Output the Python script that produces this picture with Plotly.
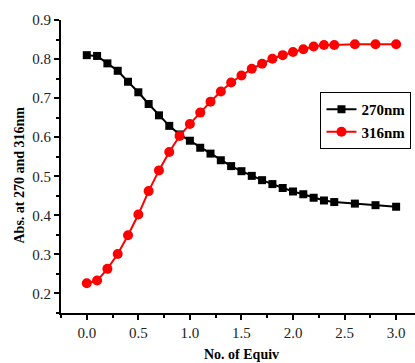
import plotly.graph_objects as go

x_equiv = [0.0, 0.1, 0.2, 0.3, 0.4, 0.5, 0.6, 0.7, 0.8, 0.9, 1.0, 1.1, 1.2, 1.3,
           1.4, 1.5, 1.6, 1.7, 1.8, 1.9, 2.0, 2.1, 2.2, 2.3, 2.4, 2.6, 2.8, 3.0]
abs_270 = [0.810, 0.808, 0.789, 0.770, 0.742, 0.715, 0.685, 0.656, 0.629, 0.607,
           0.591, 0.573, 0.558, 0.541, 0.526, 0.513, 0.501, 0.490, 0.480, 0.470,
           0.461, 0.454, 0.445, 0.438, 0.434, 0.430, 0.426, 0.422]
abs_316 = [0.226, 0.233, 0.263, 0.301, 0.349, 0.402, 0.462, 0.515, 0.562, 0.603,
           0.634, 0.663, 0.691, 0.717, 0.740, 0.758, 0.775, 0.788, 0.801, 0.810,
           0.818, 0.825, 0.832, 0.836, 0.836, 0.838, 0.838, 0.838]
series_names = ["270nm", "316nm"]
x_ticks = [0.0, 0.5, 1.0, 1.5, 2.0, 2.5, 3.0]
y_ticks = [0.2, 0.3, 0.4, 0.5, 0.6, 0.7, 0.8, 0.9]

font_family = "Liberation Serif, Times New Roman, serif"

fig = go.Figure()
fig.add_trace(go.Scatter(
    x=x_equiv, y=abs_270, name=series_names[0], mode="lines+markers",
    line=dict(color="black", width=2),
    marker=dict(symbol="square", size=8, color="black"),
))
fig.add_trace(go.Scatter(
    x=x_equiv, y=abs_316, name=series_names[1], mode="lines+markers",
    line=dict(color="red", width=2),
    marker=dict(symbol="circle", size=10, color="red"),
))

fig.update_layout(
    width=415, height=363,
    margin=dict(l=61, r=0, t=20, b=50),
    plot_bgcolor="white", paper_bgcolor="white",
    font=dict(family=font_family, size=15, color="#222"),
    showlegend=True,
    legend=dict(
        x=0.733, y=0.754, xanchor="left", yanchor="top",
        bordercolor="black", borderwidth=1, bgcolor="white",
        font=dict(family=font_family, size=15, color="black", weight="bold"),
        itemwidth=30, tracegroupgap=0,
    ),
    xaxis=dict(
        range=[-0.25, 3.183], tickvals=x_ticks, ticktext=[f"{v:.1f}" for v in x_ticks],
        showline=True, linecolor="black", linewidth=2,
        ticks="outside", ticklen=5, tickwidth=2, tickcolor="black",
        minor=dict(dtick=0.25, tick0=-0.25, ticks="outside", ticklen=3, tickwidth=2, tickcolor="black"),
        showgrid=False, zeroline=False,
    ),
    yaxis=dict(
        range=[0.15, 0.9], tickvals=y_ticks, ticktext=[f"{v:.1f}" for v in y_ticks],
        showline=True, linecolor="black", linewidth=2,
        ticks="outside", ticklen=5, tickwidth=2, tickcolor="black",
        minor=dict(dtick=0.05, tick0=0.15, ticks="outside", ticklen=3, tickwidth=2, tickcolor="black"),
        showgrid=False, zeroline=False,
    ),
    annotations=[
        dict(text="<b>No. of Equiv</b>", xref="paper", yref="paper",
             x=(241 - 61) / 354, y=-(354 - 313) / 293, xanchor="center", yanchor="middle",
             showarrow=False, font=dict(family=font_family, size=14, color="black")),
        dict(text="<b>Abs. at 270 and 316nm</b>", xref="paper", yref="paper",
             x=-(61 - 19) / 354, y=(313 - 175.5) / 293, xanchor="center", yanchor="middle",
             textangle=-90, showarrow=False,
             font=dict(family=font_family, size=14, color="black")),
    ],
)

fig.write_html("out.html")
